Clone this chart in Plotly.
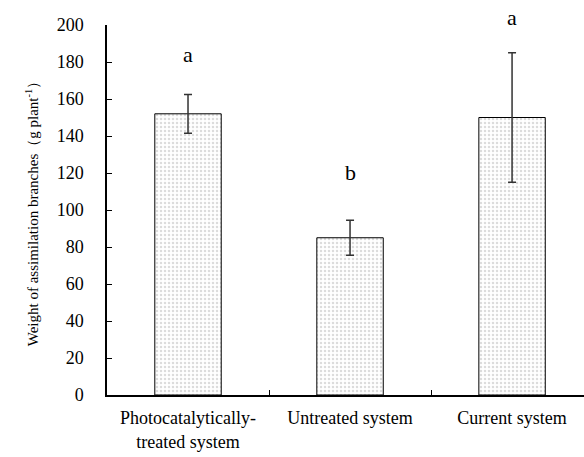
import plotly.graph_objects as go

categories = ["Photocatalytically-<br>treated system", "Untreated system", "Current system"]
values = [152, 85, 150]
errors = [10.5, 9.5, 35]
letters = ["a", "b", "a"]
letter_y = [184, 120.5, 204]
yticks = [0, 20, 40, 60, 80, 100, 120, 140, 160, 180, 200]
between_ticks = [0.5, 1.5]
ymax = 200

serif = "Liberation Serif, Times New Roman, serif"
xpos = list(range(len(categories)))

fig = go.Figure()
fig.add_trace(go.Bar(
    x=xpos, y=values, width=0.41,
    marker=dict(color="white", line=dict(color="black", width=1),
                pattern=dict(shape=".", fgcolor="#b8b8b8", bgcolor="white", size=4, solidity=0.3)),
    error_y=dict(type="data", array=errors, visible=True, color="#333333", thickness=1.5, width=4),
    showlegend=False,
))

for i, (t, ly) in enumerate(zip(letters, letter_y)):
    fig.add_annotation(x=i, y=ly / ymax, text=t, showarrow=False, xref="x", yref="paper",
                       yanchor="middle", font=dict(family=serif, size=22, color="black"))

fig.update_layout(
    width=584, height=457,
    margin=dict(l=107, r=0, t=25, b=62),
    paper_bgcolor="white", plot_bgcolor="white",
    font=dict(family=serif, size=18, color="black"),
    xaxis=dict(range=[-0.5, 2.444], tickvals=xpos, ticktext=categories,
               showline=True, linecolor="black", linewidth=1.5, ticks="",
               showgrid=False, zeroline=False, tickfont=dict(size=18), ticklabelstandoff=6,
               minor=dict(tickvals=between_ticks, ticks="inside", ticklen=5, tickwidth=1,
                          tickcolor="black", showgrid=False)),
    yaxis=dict(range=[0, ymax], tickvals=yticks, showline=True, linecolor="black", linewidth=1.5,
               ticks="inside", ticklen=5, tickcolor="black", showgrid=False, zeroline=False,
               tickfont=dict(size=18), ticklabelstandoff=18,
               title=dict(text="Weight of assimilation branches（g plant<sup>-1</sup>）",
                          font=dict(size=15), standoff=14)),
)

fig.write_html("out.html")
